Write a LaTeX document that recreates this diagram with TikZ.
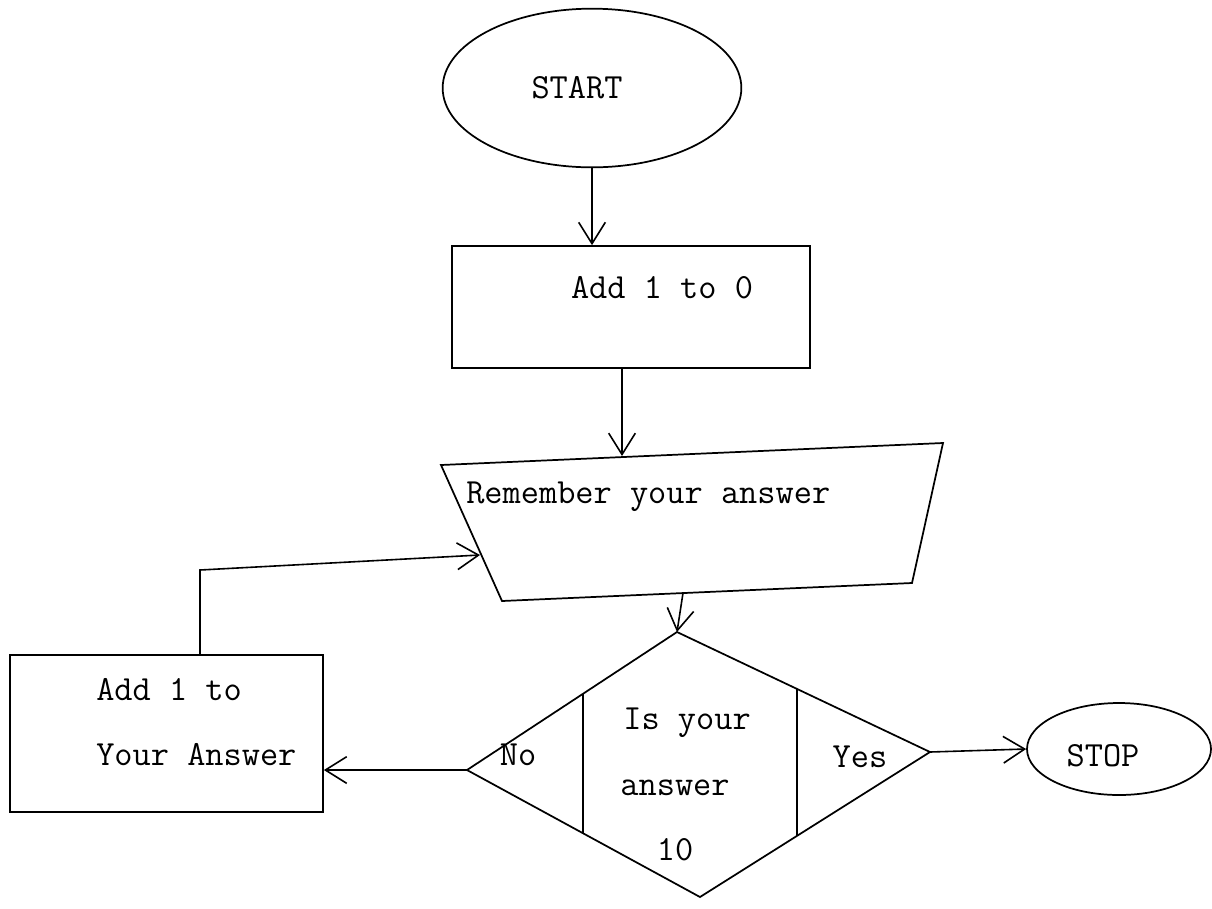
\documentclass[tikz,border=0pt]{standalone}
\usepackage{fontspec}
\usepackage{tikz}
\usetikzlibrary{shapes.geometric,arrows.meta,calc}

\tikzset{
  shp/.style={draw, line width=1.3pt},
  term/.style={shp, ellipse, inner sep=0pt},
  box/.style={shp, rectangle, inner sep=0pt},
  lbl/.style={font=\ttfamily\fontsize{26.5}{30}\selectfont, inner sep=0.75pt},
  flow/.style={line width=1.2pt, -{Straight Barb[length=16pt,width=20pt,line width=1.2pt]}},
}

\begin{document}
\begin{tikzpicture}[x=0.75pt,y=0.75pt,yscale=-1,xscale=1]
        \useasboundingbox (0,0) rectangle (1212,908);

        \node [term, minimum width=224pt, minimum height=119pt] (start) at (592,88) {};
        \node [lbl] (startlbl) at (577,88) {START};

        \node [box, minimum width=268.5pt, minimum height=91.5pt] (addzero) at (631,307) {};
        \node [lbl] (addzerolbl) at (662,288) {Add 1 to 0};

        \coordinate (rem-tl) at (441,465);
        \coordinate (rem-tr) at (943,443);
        \coordinate (rem-br) at (912,583);
        \coordinate (rem-bl) at (502,601);
        \coordinate (rem-in) at (622,456);
        \coordinate (rem-out) at (683,593);
        \coordinate (rem-back) at (480,555);
        \draw [shp] (rem-tl) -- (rem-tr) -- (rem-br) -- (rem-bl) -- cycle;
        \node [lbl, anchor=west] (remlbl) at (465,497) {Remember your answer};

        \coordinate (dec-t) at (677,632);
        \coordinate (dec-r) at (930,752);
        \coordinate (dec-b) at (700,897);
        \coordinate (dec-l) at (467,770);
        \draw [shp] (dec-t) -- (dec-r) -- (dec-b) -- (dec-l) -- cycle;
        \draw [shp] ($(dec-t)!0.448!(dec-l)$) -- ($(dec-l)!0.498!(dec-b)$);
        \draw [shp] ($(dec-t)!0.474!(dec-r)$) -- ($(dec-r)!0.578!(dec-b)$);
        \node [lbl] (nolbl) at (518,755) {No};
        \node [lbl] (q1lbl) at (687,723) {Is your};
        \node [lbl] (q2lbl) at (675,788) {answer};
        \node [lbl] (q3lbl) at (675,850) {10};
        \node [lbl] (yeslbl) at (860,757) {Yes};

        \node [term, minimum width=138pt, minimum height=69pt] (stop) at (1119,749) {};
        \node [lbl] (stoplbl) at (1103,756) {STOP};

        \node [box, minimum width=234.75pt, minimum height=117.75pt] (addans) at (166.5,733.5) {};
        \node [lbl, anchor=west] (addans1) at (95,690) {Add 1 to};
        \node [lbl, anchor=west] (addans2) at (95,755) {Your Answer};
        \coordinate (loop) at (200,570);

        \draw [flow] (start.south) -- (start.south |- addzero.north);
        \draw [flow] (rem-in |- addzero.south) -- (rem-in);
        \draw [flow] (rem-out) -- (dec-t);
        \draw [flow] (dec-r) -- (stop.west);
        \draw [flow] (dec-l) -- (dec-l -| addans.east);
        \draw [flow] (loop |- addans.north) -- (loop) -- (rem-back);
    \end{tikzpicture}
\end{document}
